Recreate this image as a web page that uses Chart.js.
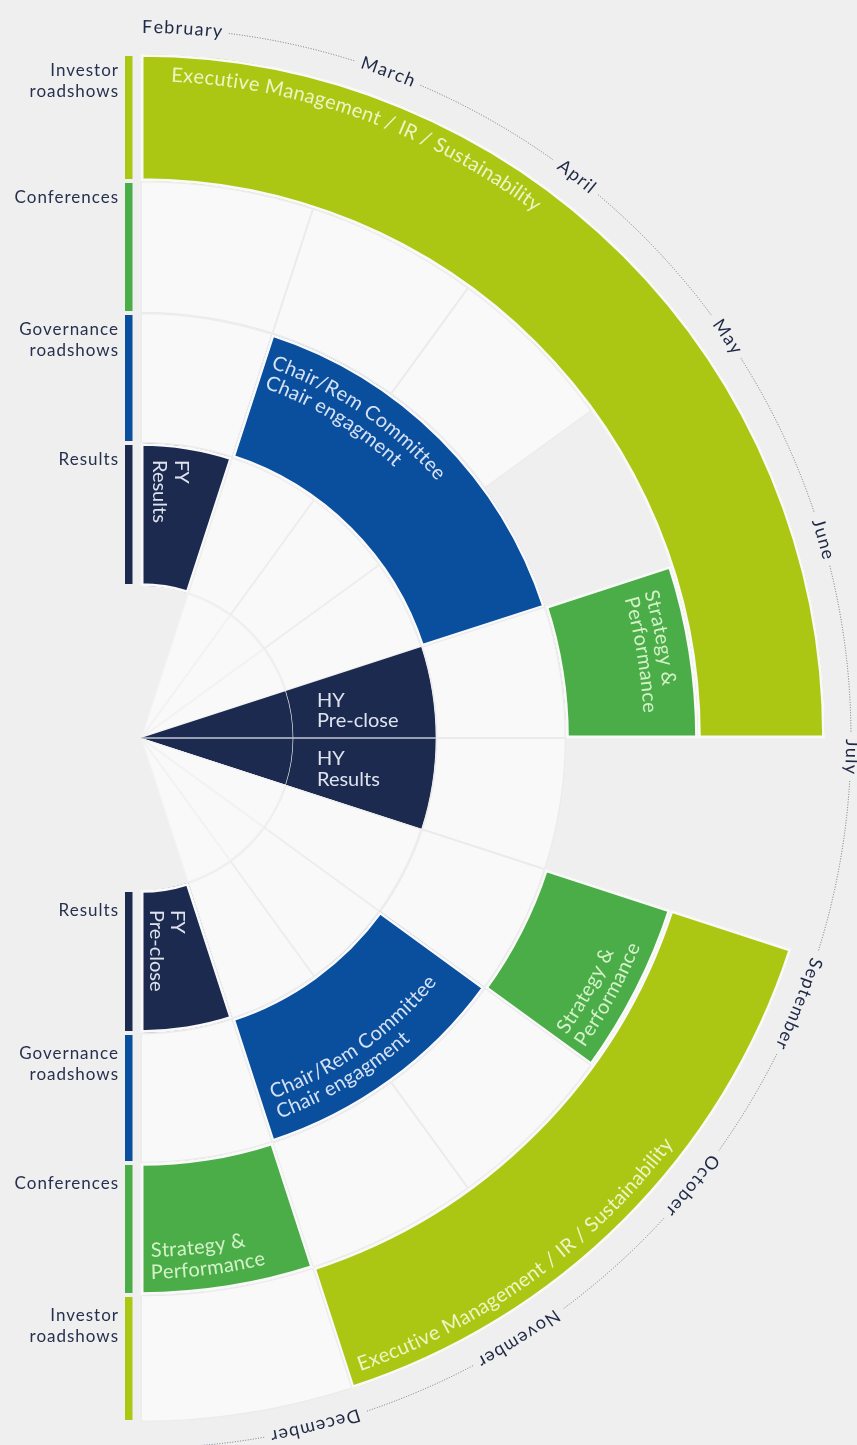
<!DOCTYPE html>
<html><head><meta charset="utf-8">
<script src="https://cdn.jsdelivr.net/npm/chart.js@4.4.1/dist/chart.umd.min.js"></script>
<style>
html,body{margin:0;padding:0;background:#efefef;}
#wrap{position:relative;width:857px;height:1445px;}
</style></head><body>
<div id="wrap"><canvas id="c"></canvas></div>
<script>
// ---------- DATA ----------
const months = ['February','March','April','May','June','July','September','October','November','December'];
const rowNames = ['Investor\nroadshows','Conferences','Governance\nroadshows','Results'];
const activities = {
  EXEC: 'Executive Management / IR / Sustainability',
  SP: 'Strategy &\nPerformance',
  CHAIR: 'Chair/Rem Committee\nChair engagment',
  FYR: 'FY\nResults',
  FYP: 'FY\nPre-close',
  HYP: 'HY\nPre-close',
  HYR: 'HY\nResults'
};
// one entry per month slot: activity code, '' = open slot, '-' = no slot
const investorSlots   = ['EXEC','EXEC','EXEC','EXEC','EXEC','-','EXEC','EXEC','EXEC',''];
const conferenceSlots = ['','','','-','SP','-','SP','','','SP'];
const governanceSlots = ['','CHAIR','CHAIR','CHAIR','','','','CHAIR','CHAIR',''];
const resultsSlots    = ['FYR','','','','HYP','HYR','','','','FYP'];
const coreSlots       = ['-','','','','HYP','HYR','','','','-'];

// ---------- STYLE ----------
const ringSlots = [investorSlots, conferenceSlots, governanceSlots, resultsSlots, coreSlots];
const ringWeights = [127, 132, 130, 143, 152];
const colors = {EXEC:'#abc714', SP:'#4bad47', CHAIR:'#0a4e9e', FYR:'#1b2a4e', FYP:'#1b2a4e', HYP:'#1b2a4e', HYR:'#1b2a4e'};
const textColors = {EXEC:'#eef5c4', SP:'#d4f2ca', CHAIR:'#d6e2f4', FYR:'#dfe3ee', FYP:'#dfe3ee', HYP:'#dfe3ee', HYR:'#dfe3ee'};
const openBorder = ['#ebebeb','#ebebeb','#ebebeb','#ededed','#f2f2f2'];
const rowColors = ['#abc714','#4bad47','#0a4e9e','#1b2a4e'];
const FONT = 'Lato, "Open Sans", sans-serif';

const textPlacement = {
  'EXEC:top':    {mode:'out', r:[-27], pad:30},
  'EXEC:bottom': {mode:'in',  r:[-14], pad:13},
  'CHAIR:top':   {mode:'out', r:[-33,-54], pad:9},
  'CHAIR:bottom':{mode:'in',  r:[-41,-20], pad:14},
  'SP:top':      {mode:'out', r:[-33,-54], pad:17},
  'SP:bottom':   {mode:'in',  r:[-38,-16], pad:10},
  'FYR:top':     {mode:'rot', dx:34, fromOuter:17, step:22},
  'FYP:bottom':  {mode:'rot', dx:30, fromInner:20, step:21},
  'HYP:top':     {mode:'flat', dx:176, dy:[-31,-11]},
  'HYR:bottom':  {mode:'flat', dx:176, dy:[27,48]}
};

function segments(slots){
  const segs=[];
  slots.forEach(s=>{
    const last=segs[segs.length-1];
    if(last && s!=='' && s!=='-' && last.code===s) last.span++;
    else segs.push({code:s, span:1});
  });
  return segs;
}
const ringSegs = ringSlots.map(segments);
const bg = c => c==='' ? '#f9f9f9' : c==='-' ? 'rgba(0,0,0,0)' : colors[c];
const bw = c => c==='' ? 1 : c==='-' ? 0 : (c==='HYP'||c==='HYR') ? 0 : 2.5;

const datasets = ringSegs.map((segs,i)=>({
  data: segs.map(s=>s.span),
  weight: ringWeights[i],
  backgroundColor: segs.map(s=>bg(s.code)),
  borderColor: segs.map(s=>s.code==='' ? openBorder[i] : '#f9f9f9'),
  borderWidth: segs.map(s=>bw(s.code)),
  borderAlign: 'inner',
  offset: 0, hoverOffset: 0, hoverBorderWidth: 0
}));

function arcText(ctx,cx,cy,text,r,start,dir,sp){
  let a=start;
  for(const ch of text){
    const w=ctx.measureText(ch).width;
    const mid=a+dir*(w/2)/r;
    ctx.save();
    ctx.translate(cx+r*Math.cos(mid), cy+r*Math.sin(mid));
    ctx.rotate(mid+dir*Math.PI/2);
    ctx.fillText(ch,0,0);
    ctx.restore();
    a+=dir*(w+sp)/r;
  }
  return a-dir*sp/r;
}

const annot = {
  id:'annot',
  afterDatasetsDraw(chart){
    const ctx=chart.ctx;
    const metas = ringSlots.map((_,i)=>chart.getDatasetMeta(i));
    const first = metas[0].data[0];
    const cx=first.x, cy=first.y, outerR=first.outerRadius;
    const lastArc = metas[0].data[metas[0].data.length-1];
    const a0=first.startAngle, a1=lastArc.endAngle;
    const slot=(a1-a0)/months.length;
    ctx.save();

    // separator between adjacent half-year results
    ringSegs[3].forEach((s,k)=>{
      const n=ringSegs[3][k+1];
      if(n && s.code.startsWith('HY') && n.code.startsWith('HY')){
        const arc=metas[3].data[k];
        ctx.strokeStyle='#c3c8d6'; ctx.lineWidth=1.5;
        ctx.beginPath(); ctx.moveTo(cx,cy);
        ctx.lineTo(cx+arc.outerRadius*Math.cos(arc.endAngle), cy+arc.outerRadius*Math.sin(arc.endAngle));
        ctx.stroke();
      }
    });

    // month ring
    ctx.font='18px '+FONT; ctx.fillStyle='#1f2946';
    ctx.textAlign='center'; ctx.textBaseline='alphabetic';
    const rT=outerR+21, rD=outerR+26;
    const spans=[];
    months.forEach((m,i)=>{
      const st=a0+i*slot+1/rT;
      spans.push([st, arcText(ctx,cx,cy,m,rT,st,1,1.2)]);
    });
    ctx.strokeStyle='#6f7586'; ctx.lineWidth=1; ctx.setLineDash([1,1.6]);
    spans.forEach((sp,i)=>{
      const from=sp[1]+7/rD;
      const to=(i+1<spans.length)? spans[i+1][0]-7/rD : a1;
      if(to>from){ctx.beginPath(); ctx.arc(cx,cy,rD,from,to); ctx.stroke();}
    });
    ctx.setLineDash([]);

    // row legend bars + names
    ctx.font='17px '+FONT; ctx.textAlign='right';
    try{ctx.letterSpacing='1px';}catch(e){}
    rowNames.forEach((name,i)=>{
      const arc=metas[i].data[0];
      const inner=arc.innerRadius, outer=arc.outerRadius;
      const lines=name.split('\n');
      const tTop=cy-outer+2, tBot=cy-inner-2;
      const bTop=cy+inner+2, bBot=cy+outer-2;
      ctx.fillStyle=rowColors[i];
      ctx.fillRect(cx-16,tTop,7.5,tBot-tTop);
      ctx.fillRect(cx-16,bTop,7.5,bBot-bTop);
      ctx.fillStyle='#27314f';
      lines.forEach((l,j)=>{
        ctx.fillText(l,cx-22,tTop+20+j*21);
        ctx.fillText(l,cx-22,bTop+24+j*21);
      });
    });
    try{ctx.letterSpacing='0px';}catch(e){}

    // segment texts
    ctx.font='20px '+FONT;
    ringSegs.slice(0,4).forEach((segs,i)=>{
      segs.forEach((s,k)=>{
        if(!activities[s.code]) return;
        const arc=metas[i].data[k];
        const mid=(arc.startAngle+arc.endAngle)/2;
        const key=s.code+':'+(mid<0?'top':'bottom');
        const p=textPlacement[key]; if(!p) return;
        const lines=activities[s.code].split('\n');
        ctx.fillStyle=textColors[s.code];
        if(p.mode==='out'||p.mode==='in'){
          ctx.textAlign='center';
          lines.forEach((l,j)=>{
            const r=arc.outerRadius+p.r[j];
            if(p.mode==='out') arcText(ctx,cx,cy,l,r,arc.startAngle+p.pad/r,1,0.3);
            else arcText(ctx,cx,cy,l,r,arc.endAngle-p.pad/r,-1,0.3);
          });
        } else if(p.mode==='rot'){
          ctx.textAlign='left';
          const y0 = p.fromOuter!==undefined ? cy-(arc.outerRadius-p.fromOuter) : cy+arc.innerRadius+p.fromInner;
          ctx.save(); ctx.translate(cx+p.dx,y0); ctx.rotate(Math.PI/2);
          lines.forEach((l,j)=>ctx.fillText(l,0,j*p.step));
          ctx.restore();
        } else {
          ctx.textAlign='left';
          lines.forEach((l,j)=>ctx.fillText(l,cx+p.dx,cy+p.dy[j]));
        }
      });
    });
    ctx.restore();
  }
};

new Chart(document.getElementById('c'),{
  type:'doughnut',
  data:{labels:months, datasets},
  options:{
    responsive:true, maintainAspectRatio:false, animation:false, events:[],
    rotation:0, circumference:180, cutout:0, spacing:0,
    layout:{padding:{left:141, top:54, right:32, bottom:23}},
    plugins:{legend:{display:false}, tooltip:{enabled:false}}
  },
  plugins:[annot]
});
</script>
</body></html>
